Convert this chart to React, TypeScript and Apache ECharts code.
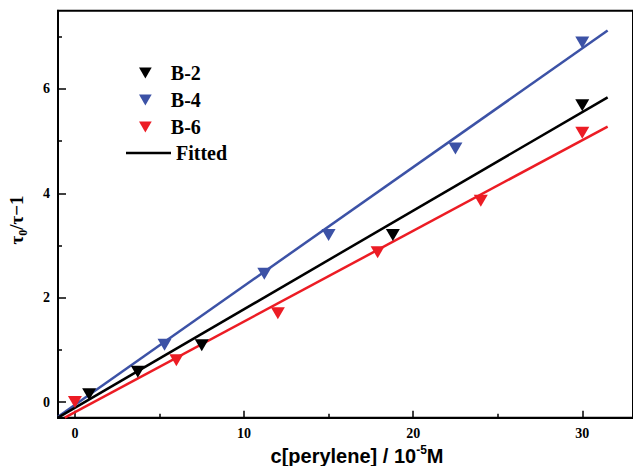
import React, { useEffect, useRef } from "react";
import * as echarts from "echarts";

// ---- data ----
const b2Points: [number, number][] = [
  [0.84, 0.15], [3.72, 0.58], [7.5, 1.09], [18.8, 3.2], [30, 5.69],
];
const b4Points: [number, number][] = [
  [5.3, 1.1], [11.2, 2.46], [15, 3.2], [22.5, 4.86], [30, 6.89],
];
const b6Points: [number, number][] = [
  [0, 0], [6, 0.8], [12, 1.7], [17.9, 2.87], [24, 3.86], [30, 5.16],
];
const b2Fit: [number, number][] = [[-1, -0.3], [31.5, 5.84]];
const b4Fit: [number, number][] = [[-1, -0.28], [31.5, 7.12]];
const b6Fit: [number, number][] = [[-0.6, -0.3], [31.5, 5.28]];

const xTicks = [0, 10, 20, 30];
const xMinorTicks = [5, 15, 25];
const yTicks = [0, 2, 4, 6];
const yMinorTicks = [1, 3, 5, 7];

const seriesNames = ["B-2", "B-4", "B-6"];
const fitName = "Fitted";

const BLACK = "#000000";
const BLUE = "#3c52a6";
const RED = "#ec1c24";

const SERIF = "'Liberation Serif', 'Times New Roman', serif";
const SANS = "'Liberation Sans', Arial, sans-serif";
const DOWN_TRIANGLE = "path://M0,0L10,0L5,8.66Z";

export default function App() {
  const ref = useRef<HTMLDivElement>(null);

  useEffect(() => {
    if (!ref.current) return;
    const chart = echarts.init(ref.current, undefined, { renderer: "svg" });

    const scatter = (name: string, data: [number, number][], color: string) => ({
      name,
      type: "scatter",
      data,
      symbol: "triangle",
      symbolRotate: 180,
      symbolSize: [14, 12],
      itemStyle: { color, opacity: 1 },
      z: 5,
    });
    const fit = (name: string, data: [number, number][], color: string) => ({
      name,
      type: "line",
      data,
      symbol: "none",
      showSymbol: false,
      lineStyle: { color, width: 2.5 },
      itemStyle: { color },
      z: 3,
    });

    const axisLabelBase = {
      color: "#000",
      fontFamily: SERIF,
      fontWeight: "bold",
      fontSize: 14,
    };
    const legendText = {
      color: "#000",
      fontFamily: SERIF,
      fontWeight: "bold",
      fontSize: 20,
      lineHeight: 20,
    };

    chart.setOption({
      animation: false,
      grid: {
        left: 58,
        top: 10.7,
        right: -3,
        bottom: 48.3,
        show: true,
        borderColor: "#000",
        borderWidth: 2,
        backgroundColor: "transparent",
      },
      xAxis: [
        {
          type: "value",
          min: -1,
          max: 33,
          splitLine: { show: false },
          axisLine: { show: true, onZero: false, lineStyle: { color: "#000", width: 2 } },
          axisTick: { show: true, inside: true, length: 7, customValues: xTicks, lineStyle: { color: "#000", width: 1.5 } },
          axisLabel: { ...axisLabelBase, margin: 9, customValues: xTicks },
        },
        {
          type: "value",
          min: -1,
          max: 33,
          position: "bottom",
          splitLine: { show: false },
          axisLine: { show: false, onZero: false },
          axisTick: { show: true, inside: true, length: 4, customValues: xMinorTicks, lineStyle: { color: "#000", width: 1.5 } },
          axisLabel: { show: false },
        },
      ],
      yAxis: [
        {
          type: "value",
          min: -0.3,
          max: 7.5,
          splitLine: { show: false },
          axisLine: { show: true, onZero: false, lineStyle: { color: "#000", width: 2 } },
          axisTick: { show: true, inside: true, length: 8, customValues: yTicks, lineStyle: { color: "#000", width: 1.5 } },
          axisLabel: { ...axisLabelBase, margin: 8, customValues: yTicks },
        },
        {
          type: "value",
          min: -0.3,
          max: 7.5,
          position: "left",
          splitLine: { show: false },
          axisLine: { show: false, onZero: false },
          axisTick: { show: true, inside: true, length: 4, customValues: yMinorTicks, lineStyle: { color: "#000", width: 1.5 } },
          axisLabel: { show: false },
        },
      ],
      legend: [
        {
          data: seriesNames.map((n) => ({ name: n, icon: DOWN_TRIANGLE })),
          orient: "vertical",
          left: 134,
          top: 58,
          itemWidth: 13,
          itemHeight: 11,
          itemGap: 7,
          selectedMode: false,
          itemStyle: { opacity: 1 },
          textStyle: { ...legendText, padding: [0, 0, 0, 14] },
        },
        {
          data: [{ name: fitName, icon: "rect" }],
          orient: "vertical",
          left: 121,
          top: 138,
          itemWidth: 45,
          itemHeight: 2.5,
          selectedMode: false,
          itemStyle: { color: BLACK },
          textStyle: legendText,
        },
      ],
      graphic: [
        {
          type: "text",
          x: 357,
          y: 455,
          style: {
            text: "{m|c[perylene] / 10}{s|-5}{m|M}",
            align: "center",
            verticalAlign: "middle",
            fill: "#000",
            rich: {
              m: { fontFamily: SANS, fontWeight: "bold", fontSize: 20, lineHeight: 22, verticalAlign: "bottom" },
              s: { fontFamily: SANS, fontWeight: "bold", fontSize: 12, lineHeight: 22, verticalAlign: "top", padding: [0, 0, 6, 0] },
            },
          },
        },
        {
          type: "text",
          x: 18,
          y: 220,
          rotation: Math.PI / 2,
          style: {
            text: "{m|τ}{s|0}{m|/τ−1}",
            align: "center",
            verticalAlign: "middle",
            fill: "#000",
            rich: {
              m: { fontFamily: SERIF, fontWeight: "bold", fontSize: 19, lineHeight: 22, verticalAlign: "top" },
              s: { fontFamily: SERIF, fontWeight: "bold", fontSize: 12, lineHeight: 22, verticalAlign: "bottom" },
            },
          },
        },
      ],
      series: [
        fit("fit-b4", b4Fit, BLUE),
        fit(fitName, b2Fit, BLACK),
        fit("fit-b6", b6Fit, RED),
        scatter(seriesNames[0], b2Points, BLACK),
        scatter(seriesNames[1], b4Points, BLUE),
        scatter(seriesNames[2], b6Points, RED),
      ],
    });

    return () => chart.dispose();
  }, []);

  return <div ref={ref} style={{ width: 633, height: 466, position: "absolute", left: 0, top: 0 }} />;
}
